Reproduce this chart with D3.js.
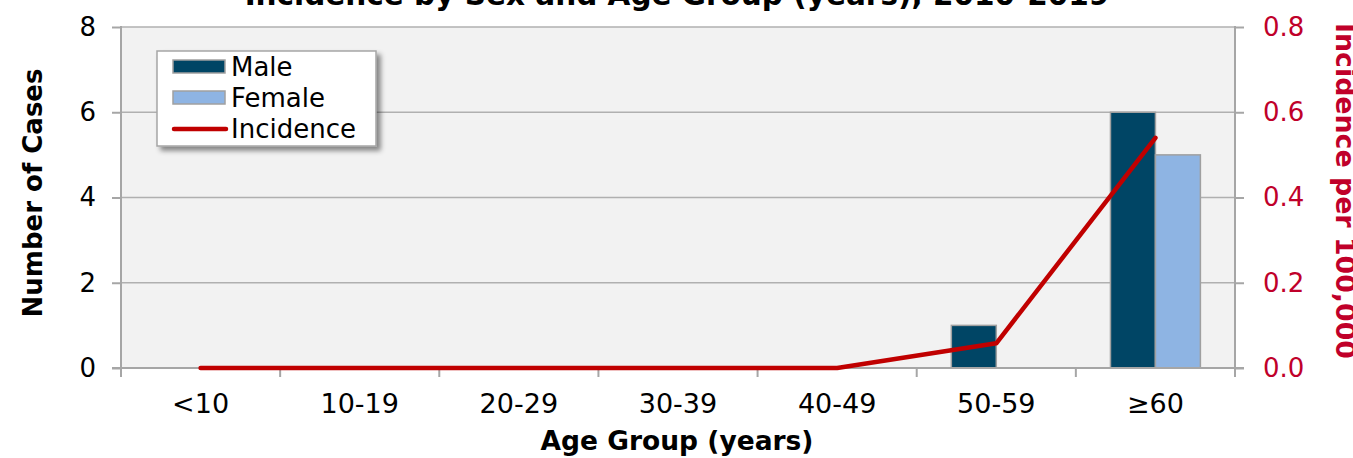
<!DOCTYPE html>
<html>
<head>
<meta charset="utf-8">
<script src="https://cdn.jsdelivr.net/npm/d3@7"></script>
<style>
  body { margin: 0; background: #fff; }
  svg { display: block; font-family: Verdana, "DejaVu Sans", sans-serif; }
</style>
</head>
<body>
<svg width="1353" height="458"></svg>
<script>
const ageGroups = ['<10', '10-19', '20-29', '30-39', '40-49', '50-59', '\u226560'];
const maleCases = [0, 0, 0, 0, 0, 1, 6];
const femaleCases = [0, 0, 0, 0, 0, 0, 5];
const incidence = [0, 0, 0, 0, 0, 0.058, 0.54];
const leftTicks = [0, 2, 4, 6, 8];
const rightTicks = [0, 0.2, 0.4, 0.6, 0.8];

const svg = d3.select('svg');
const plotLeft = 121, plotRight = 1235, plotTop = 27, plotBottom = 368;

const x0 = d3.scaleBand().domain(ageGroups).range([plotLeft, plotRight]).padding(0);
const x1 = d3.scaleBand().domain(['Male', 'Female'])
  .range([0, x0.bandwidth()]).paddingInner(0).paddingOuter(0.77);
const y = d3.scaleLinear().domain([0, 8]).range([plotBottom, plotTop]);
const y2 = d3.scaleLinear().domain([0, 0.8]).range([plotBottom, plotTop]);

const colors = { Male: '#004565', Female: '#8eb4e3' };
const red = '#c00000';
const axisGray = '#a6a6a6';

// plot background
svg.append('rect')
  .attr('x', plotLeft).attr('y', plotTop)
  .attr('width', plotRight - plotLeft).attr('height', plotBottom - plotTop)
  .attr('fill', '#f2f2f2');

// gridlines
svg.selectAll('.grid')
  .data(leftTicks.filter(d => d > 0))
  .enter().append('line')
  .attr('x1', plotLeft).attr('x2', plotRight)
  .attr('y1', d => y(d)).attr('y2', d => y(d))
  .attr('stroke', '#b0b0b0').attr('stroke-width', 1.5);

// bars
const rows = ageGroups.map((g, i) => ({ g, Male: maleCases[i], Female: femaleCases[i] }));
const groups = svg.selectAll('.grp').data(rows).enter().append('g')
  .attr('transform', d => `translate(${x0(d.g)},0)`);
groups.selectAll('rect')
  .data(d => ['Male', 'Female'].map(k => ({ k, v: d[k] })).filter(e => e.v > 0))
  .enter().append('rect')
  .attr('x', d => x1(d.k))
  .attr('width', x1.bandwidth())
  .attr('y', d => y(d.v))
  .attr('height', d => y(0) - y(d.v))
  .attr('fill', d => colors[d.k])
  .attr('stroke', '#a0a0a0').attr('stroke-width', 1.5);

// left axis
const yAxis = svg.append('g')
  .attr('transform', `translate(${plotLeft},0)`)
  .call(d3.axisLeft(y).tickValues(leftTicks).tickSize(9).tickPadding(16).tickFormat(d3.format('d')));
// right axis
const y2Axis = svg.append('g')
  .attr('transform', `translate(${plotRight},0)`)
  .call(d3.axisRight(y2).tickValues(rightTicks).tickSize(9).tickPadding(19).tickFormat(d3.format('.1f')));
// bottom axis
const xAxis = svg.append('g')
  .attr('transform', `translate(0,${plotBottom})`)
  .call(d3.axisBottom(x0).tickSize(0).tickPadding(26));

[yAxis, y2Axis, xAxis].forEach(a => {
  a.select('.domain').attr('stroke', axisGray).attr('stroke-width', 2);
  a.selectAll('.tick line').attr('stroke', axisGray).attr('stroke-width', 2);
  a.selectAll('text').attr('font-family', 'Verdana, "DejaVu Sans", sans-serif');
});
yAxis.select('.domain').attr('d', `M0,${plotTop - 1}V${plotBottom + 9}`);
y2Axis.select('.domain').attr('d', `M0,${plotTop - 1}V${plotBottom + 9}`);
xAxis.select('.domain').attr('d', `M${plotLeft - 9},0H${plotRight + 9}`);
yAxis.selectAll('text').attr('font-size', 26).attr('fill', '#000');
y2Axis.selectAll('text').attr('font-size', 26).attr('fill', '#c0002a');
xAxis.selectAll('text').attr('font-size', 27).attr('fill', '#000');

// category separator ticks
svg.append('g').selectAll('line')
  .data(ageGroups.slice(1))
  .enter().append('line')
  .attr('x1', d => x0(d)).attr('x2', d => x0(d))
  .attr('y1', plotBottom).attr('y2', plotBottom + 9)
  .attr('stroke', axisGray).attr('stroke-width', 2);

// incidence line
const line = d3.line()
  .x((d, i) => x0(ageGroups[i]) + x0.bandwidth() / 2)
  .y(d => y2(d));
svg.append('path')
  .datum(incidence)
  .attr('d', line)
  .attr('fill', 'none')
  .attr('stroke', red)
  .attr('stroke-width', 4.5)
  .attr('stroke-linecap', 'round')
  .attr('stroke-linejoin', 'round');

// titles
svg.append('text')
  .attr('x', 677).attr('y', 5)
  .attr('text-anchor', 'middle')
  .attr('font-size', 29.5).attr('font-weight', 'bold')
  .text('Incidence by Sex and Age Group (years), 2010-2019');

svg.append('text')
  .attr('x', 677).attr('y', 450)
  .attr('text-anchor', 'middle')
  .attr('font-size', 26.5).attr('font-weight', 'bold')
  .text('Age Group (years)');

svg.append('text')
  .attr('transform', 'translate(42,193) rotate(-90)')
  .attr('text-anchor', 'middle')
  .attr('font-size', 26).attr('font-weight', 'bold')
  .text('Number of Cases');

svg.append('text')
  .attr('transform', 'translate(1336,191) rotate(90)')
  .attr('text-anchor', 'middle')
  .attr('font-size', 26.8).attr('font-weight', 'bold')
  .attr('fill', '#c0002a')
  .text('Incidence per 100,000');

// legend
const defs = svg.append('defs');
const f = defs.append('filter').attr('id', 'shadow')
  .attr('x', '-10%').attr('y', '-10%').attr('width', '130%').attr('height', '130%');
f.append('feDropShadow').attr('dx', 4).attr('dy', 4).attr('stdDeviation', 2.5)
  .attr('flood-color', '#000').attr('flood-opacity', 0.45);

const legend = svg.append('g').attr('transform', 'translate(157,51)');
legend.append('rect')
  .attr('width', 219).attr('height', 95)
  .attr('fill', '#fff').attr('stroke', '#a6a6a6').attr('stroke-width', 1.5)
  .attr('filter', 'url(#shadow)');
const legendItems = [
  { name: 'Male', type: 'bar', color: colors.Male },
  { name: 'Female', type: 'bar', color: colors.Female },
  { name: 'Incidence', type: 'line', color: red }
];
const li = legend.selectAll('.li').data(legendItems).enter().append('g')
  .attr('transform', (d, i) => `translate(0,${16 + i * 31})`);
li.filter(d => d.type === 'bar').append('rect')
  .attr('x', 16).attr('y', -7).attr('width', 52).attr('height', 13)
  .attr('fill', d => d.color).attr('stroke', '#a0a0a0').attr('stroke-width', 1.5);
li.filter(d => d.type === 'line').append('line')
  .attr('x1', 17).attr('x2', 69).attr('y1', 0).attr('y2', 0)
  .attr('stroke', d => d.color).attr('stroke-width', 4.5).attr('stroke-linecap', 'round');
li.append('text')
  .attr('x', 74).attr('y', 9)
  .attr('font-size', 26)
  .text(d => d.name);
</script>
</body>
</html>
